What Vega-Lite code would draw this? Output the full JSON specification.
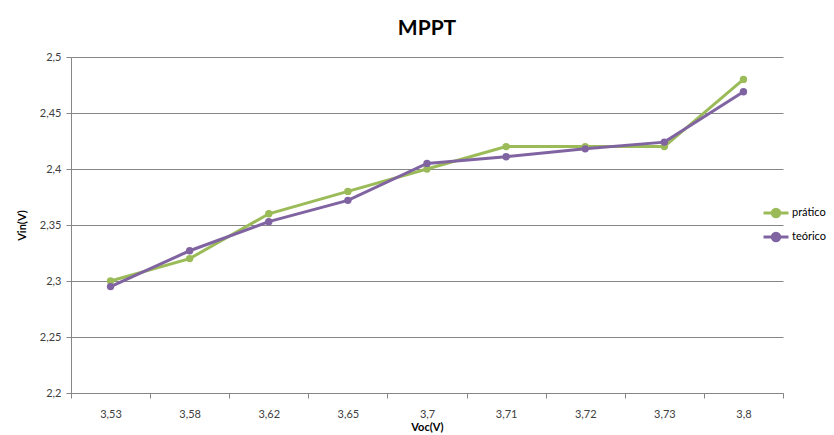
{
  "$schema": "https://vega.github.io/schema/vega-lite/v6.json",
  "width": 712,
  "height": 336,
  "autosize": {"type": "none"},
  "padding": {"left": 71, "top": 57, "right": 51, "bottom": 42},
  "background": "white",
  "title": {"text": "MPPT", "font": "Lato", "fontSize": 21, "fontWeight": "bold", "color": "#000000", "anchor": "middle", "offset": 12},
  "data": {
    "values": [
      {"Voc": "3,53", "Vin": 2.30, "serie": "prático"},
      {"Voc": "3,58", "Vin": 2.32, "serie": "prático"},
      {"Voc": "3,62", "Vin": 2.36, "serie": "prático"},
      {"Voc": "3,65", "Vin": 2.38, "serie": "prático"},
      {"Voc": "3,7", "Vin": 2.40, "serie": "prático"},
      {"Voc": "3,71", "Vin": 2.42, "serie": "prático"},
      {"Voc": "3,72", "Vin": 2.42, "serie": "prático"},
      {"Voc": "3,73", "Vin": 2.42, "serie": "prático"},
      {"Voc": "3,8", "Vin": 2.48, "serie": "prático"},
      {"Voc": "3,53", "Vin": 2.295, "serie": "teórico"},
      {"Voc": "3,58", "Vin": 2.327, "serie": "teórico"},
      {"Voc": "3,62", "Vin": 2.353, "serie": "teórico"},
      {"Voc": "3,65", "Vin": 2.372, "serie": "teórico"},
      {"Voc": "3,7", "Vin": 2.405, "serie": "teórico"},
      {"Voc": "3,71", "Vin": 2.411, "serie": "teórico"},
      {"Voc": "3,72", "Vin": 2.418, "serie": "teórico"},
      {"Voc": "3,73", "Vin": 2.424, "serie": "teórico"},
      {"Voc": "3,8", "Vin": 2.469, "serie": "teórico"}
    ]
  },
  "mark": {"type": "line", "strokeWidth": 3, "point": {"filled": true, "size": 55}},
  "encoding": {
    "x": {
      "field": "Voc",
      "type": "ordinal",
      "sort": ["3,53", "3,58", "3,62", "3,65", "3,7", "3,71", "3,72", "3,73", "3,8"],
      "scale": {"type": "band", "paddingInner": 0, "paddingOuter": 0},
      "bandPosition": 0.5,
      "axis": {
        "title": "Voc(V)",
        "titleFont": "Lato",
        "titleFontSize": 11,
        "titleFontWeight": "bold",
        "titleColor": "#000000",
        "titlePadding": 2,
        "labelFont": "Lato",
        "labelFontSize": 11,
        "labelColor": "#404040",
        "labelAngle": 0,
        "labelPadding": 10,
        "tickBand": "extent",
        "tickSize": 5,
        "tickColor": "#868686",
        "domainColor": "#868686",
        "grid": false
      }
    },
    "y": {
      "field": "Vin",
      "type": "quantitative",
      "scale": {"domain": [2.2, 2.5], "nice": false, "zero": false},
      "axis": {
        "title": "Vin(V)",
        "titleFont": "Lato",
        "titleFontSize": 11,
        "titleFontWeight": "bold",
        "titleColor": "#000000",
        "titlePadding": 12,
        "values": [2.2, 2.25, 2.3, 2.35, 2.4, 2.45, 2.5],
        "labelExpr": "replace(format(datum.value, '.2~f'), '.', ',')",
        "labelFont": "Lato",
        "labelFontSize": 11,
        "labelColor": "#404040",
        "labelPadding": 5,
        "tickSize": 5,
        "tickColor": "#868686",
        "domainColor": "#868686",
        "grid": true,
        "gridColor": "#868686",
        "gridWidth": 1
      }
    },
    "color": {
      "field": "serie",
      "type": "nominal",
      "scale": {"domain": ["prático", "teórico"], "range": ["#9BBB59", "#8064A2"]},
      "legend": {
        "title": null,
        "orient": "none",
        "legendX": 691,
        "legendY": 142,
        "labelFont": "Lato",
        "labelFontSize": 11,
        "labelColor": "#000000",
        "rowPadding": 0,
        "symbolType": "M-1,0H1M-0.3,0A0.3,0.3 0 1,0 0.3,0A0.3,0.3 0 1,0 -0.3,0Z",
        "symbolStrokeWidth": 3,
        "symbolSize": 625,
        "labelOffset": 2
      }
    }
  },
  "config": {"view": {"stroke": null}}
}
